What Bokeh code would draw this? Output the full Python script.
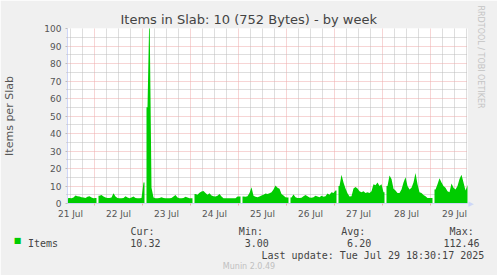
from bokeh.plotting import figure
from bokeh.models import Range1d, FixedTicker, Title, Label
from bokeh.embed import file_html
from bokeh.resources import INLINE

# ---- data -----------------------------------------------------------------
title_text = "Items in Slab: 10 (752 Bytes) - by week"
y_title = "Items per Slab"
day_labels = ["21 Jul", "22 Jul", "23 Jul", "24 Jul", "25 Jul",
              "26 Jul", "27 Jul", "28 Jul", "29 Jul"]
y_ticks = [0, 10, 20, 30, 40, 50, 60, 70, 80, 90, 100]

# hourly item counts, one list per day (None = no sample)
first_hour = 10          # first sample of 21 Jul is 10:00
items_21 = [3.0, 3.2, 3.0, 3.5, 4.6, 4.2, 4.0, 3.6, 3.4, 3.2, 3.8, 4.2, 3.5, 3.0]
items_22 = [3.2, None, 4.5, 4.8, 4.0, 3.5, 3.2, 3.2, 3.5, 5.8, 4.0, 3.2,
            3.0, 3.0, 3.2, 4.2, 3.5, 3.0, 3.4, 4.0, 3.2, 3.0, 3.0, 3.1]
items_23 = [12.0, None, 55.0, 112.46, 9.0, 3.5, 3.0, 3.0, 3.2, 3.6, 3.1, 3.0,
            3.0, 3.0, 3.2, 4.0, 4.8, 3.5, 3.0, 3.0, 3.2, 3.8, 3.4, 3.0]
items_24 = [3.0, None, 5.5, 5.0, 6.2, 6.8, 7.2, 6.0, 5.0, 5.8, 4.6, 4.2,
            4.0, 4.4, 5.5, 4.0, 3.0, 3.0, 3.0, 3.0, 3.0, 3.0, 3.0, 4.0]
items_25 = [4.0, None, 4.0, 3.8, 4.2, 6.0, 9.3, 4.5, 3.8, 3.6, 4.0, 4.6,
            5.0, 5.7, 5.5, 5.8, 6.5, 8.0, 10.3, 9.0, 8.5, 5.5, 4.6, 3.6]
items_26 = [3.4, None, 3.5, 5.2, 3.6, 3.2, 3.2, 3.3, 4.2, 4.8, 4.2, 3.5,
            3.3, 3.6, 4.5, 4.0, 3.6, 4.4, 3.8, 4.2, 5.7, 5.0, 6.5, 6.0]
items_27 = [7.4, None, 10.0, 16.5, 12.0, 8.6, 5.8, 4.0, 4.2, 8.6, 9.5, 8.6,
            7.0, 6.5, 7.0, 6.0, 6.5, 6.0, 7.0, 11.0, 10.5, 12.0, 10.0, 11.0]
items_28 = [6.5, None, 10.0, 16.0, 14.0, 8.5, 7.5, 6.0, 6.0, 8.0, 12.0, 15.0,
            10.0, 8.0, 9.0, 12.0, 17.5, 11.0, 6.5, 6.0, 4.8, 4.2, 3.2, 3.2]
items_29 = [3.2, None, 8.0, 11.0, 14.5, 12.0, 10.0, 9.0, 7.0, 6.5, 11.5,
            9.0, 8.0, 10.0, 14.0, 16.5, 12.0, 7.5, 10.32]
days = [items_21, items_22, items_23, items_24, items_25,
        items_26, items_27, items_28, items_29]

stat_names = ["Cur:", "Min:", "Avg:", "Max:"]
stat_values = ["10.32", "3.00", "6.20", "112.46"]
series_name = "Items"
last_update = "Last update: Tue Jul 29 18:30:17 2025"
footer = "Munin 2.0.49"
side_text = "RRDTOOL / TOBI OETIKER"

# ---- style ----------------------------------------------------------------
GREEN = "#00cc00"
BG = "#f0f0f0"
AXIS = "#cfd6f8"
MGRID = "#eeaaaa"
GRID = "#bdbdbd"
TXT = "#555555"
DARK = "#444444"
SANS = "DejaVu Sans"
MONO = "DejaVu Sans Mono"
NBSP = "\u00a0"

# time axis: hours since 21 Jul 00:00
t0, t1 = 10.5, 210.5

p = figure(width=497, height=275, output_backend="svg", toolbar_location=None,
           title=None, x_range=Range1d(t0, t1), y_range=Range1d(0, 100),
           min_border_left=67, min_border_right=30,
           min_border_top=28, min_border_bottom=72,
           background_fill_color="white", border_fill_color=BG,
           outline_line_color=None)

# ---- samples as filled area, broken at missing hours -------------------------
runs, cur_x, cur_y = [], [], []
for d, vals in enumerate(days):
    start = first_hour if d == 0 else 0
    for i, v in enumerate(vals):
        x = 24 * d + start + i + 0.5
        if v is None:
            if cur_x:
                runs.append((cur_x, cur_y))
            cur_x, cur_y = [], []
        else:
            cur_x.append(x)
            cur_y.append(v)
if cur_x:
    runs.append((cur_x, cur_y))

for xs, ys in runs:
    ex = [xs[0] - 0.5] + xs + [xs[-1] + 0.5]
    ey = [ys[0]] + ys + [ys[-1]]
    p.varea(x=ex, y1=[0] * len(ex), y2=ey, fill_color=GREEN, fill_alpha=1.0)

# ---- grid -------------------------------------------------------------------
midnights = [24 * d for d in range(1, 9)]
six_hours = [h for h in range(12, 211, 6) if h % 24 != 0]
noons = [24 * d + 12 for d in range(len(day_labels))]

p.xgrid.ticker = FixedTicker(ticks=midnights, minor_ticks=six_hours)
p.xgrid.grid_line_color = MGRID
p.xgrid.grid_line_dash = "1 1"
p.xgrid.minor_grid_line_color = GRID
p.xgrid.minor_grid_line_dash = "1 1"

p.ygrid.ticker = FixedTicker(ticks=y_ticks[1:], minor_ticks=list(range(5, 100, 10)))
p.ygrid.grid_line_color = MGRID
p.ygrid.grid_line_dash = "1 1"
p.ygrid.minor_grid_line_color = GRID
p.ygrid.minor_grid_line_dash = "1 1"

# ---- axes -------------------------------------------------------------------
xa = p.xaxis[0]
xa.ticker = FixedTicker(ticks=noons, minor_ticks=midnights)
xa.major_label_overrides = {n: lab for n, lab in zip(noons, day_labels)}
xa.major_tick_line_color = None
xa.major_tick_out = 0
xa.major_tick_in = 0
xa.minor_tick_line_color = MGRID
xa.minor_tick_out = 2
xa.minor_tick_in = 0
xa.axis_line_color = AXIS
xa.major_label_standoff = 3
xa.major_label_text_font = SANS
xa.major_label_text_font_size = "9px"
xa.major_label_text_color = TXT

ya = p.yaxis[0]
ya.ticker = FixedTicker(ticks=y_ticks, minor_ticks=list(range(5, 100, 10)))
ya.major_tick_line_color = GRID
ya.major_tick_out = 2
ya.major_tick_in = 0
ya.minor_tick_line_color = GRID
ya.minor_tick_out = 1
ya.minor_tick_in = 0
ya.axis_line_color = AXIS
ya.major_label_standoff = 4
ya.major_label_text_font = SANS
ya.major_label_text_font_size = "9px"
ya.major_label_text_color = TXT
ya.axis_label = y_title
ya.axis_label_text_font = SANS
ya.axis_label_text_font_size = "11px"
ya.axis_label_text_font_style = "normal"
ya.axis_label_text_color = TXT
ya.axis_label_standoff = 25

# ---- title and side credit -----------------------------------------------------
p.add_layout(Title(text=title_text, align="left", offset=53, standoff=3,
                   text_font=SANS, text_font_size="13px",
                   text_font_style="normal", text_color=DARK), "above")
p.add_layout(Title(text=side_text, align="left", offset=-23, standoff=16,
                   text_font=SANS, text_font_size="8px",
                   text_font_style="normal", text_color="#c4c4c4"), "right")


def canvas_text(x, y, s, panel="below", font=MONO, size="10px", color=DARK,
                align="left", baseline="alphabetic"):
    p.add_layout(Label(x=x, y=y, x_units="canvas", y_units="canvas", text=s,
                       text_font=font, text_font_size=size, text_color=color,
                       text_align=align, text_baseline=baseline), panel)


# arrow head at the end of the time axis
canvas_text(470.5, 203, "\u25b6", panel="above", font=SANS, size="7px",
            color=AXIS, align="center", baseline="middle")

# ---- legend (monospaced columns) ------------------------------------------------
def columns(items):
    """Pad (column, text) pairs into one monospaced line."""
    line = ""
    for col, s in items:
        line = line.ljust(col, NBSP) + s
    return line


head_line = columns(zip([0, 18, 35, 53], stat_names))
item_line = columns(zip([0, 17, 36, 53, 69], [series_name] + stat_values))

canvas_text(17, 240, "\u25a0", font=SANS, size="8px", color=GREEN,
            align="center", baseline="middle")
canvas_text(130, 231, head_line)
canvas_text(27.5, 243, item_line)
canvas_text(261, 255, last_update.replace(" ", NBSP))
canvas_text(248.5, 266, footer, font=SANS, size="8px", color="#c0c0c0",
            align="center")

open("out.html", "w").write(file_html(p, INLINE))
